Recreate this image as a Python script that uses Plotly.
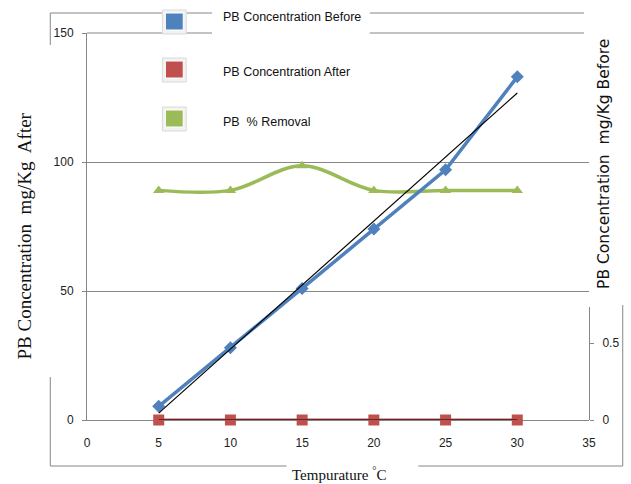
import numpy as np
import plotly.graph_objects as go

# ---- data ----
temperature = [5, 10, 15, 20, 25, 30]
pb_before = [5.3, 28, 51, 74, 97, 133]
pb_after = [0, 0, 0, 0, 0, 0]
pb_removal = [89, 89, 98.5, 89, 89, 89]
series_names = ["PB Concentration Before", "PB Concentration After", "PB  % Removal"]
x_ticks = [0, 5, 10, 15, 20, 25, 30, 35]
y_ticks = [0, 50, 100, 150]
y2_ticks = [0, 0.5]

BLUE = "#4F81BD"
RED = "#C0504D"
GREEN = "#9BBB59"
GREY = "#868686"
TICKFONT = dict(family="Liberation Sans, Arial", size=12, color="#222")

W, H = 631, 484
L, R, T, B = 87, 593, 33, 420

def px(x):
    return (x - L) / (R - L)

def py(y):
    return (B - y) / (B - T)

# linear trendlines
c1 = np.polyfit(temperature, pb_before, 1)
c2 = np.polyfit(temperature, pb_after, 1)
tx = [temperature[0], temperature[-1]]

fig = go.Figure()

fig.add_trace(go.Scatter(x=temperature, y=pb_after, name=series_names[1], yaxis="y2",
                         mode="lines+markers", line=dict(color=RED, width=3),
                         marker=dict(symbol="square", size=11, color=RED),
                         cliponaxis=False, showlegend=False))
fig.add_trace(go.Scatter(x=tx, y=np.polyval(c2, tx), yaxis="y2", mode="lines",
                         line=dict(color="black", width=1.2), showlegend=False, cliponaxis=False))
fig.add_trace(go.Scatter(x=temperature, y=pb_removal, name=series_names[2],
                         mode="lines+markers", line=dict(color=GREEN, width=3.5, shape="spline", smoothing=1),
                         marker=dict(symbol="triangle-up", size=10, color=GREEN),
                         cliponaxis=False, showlegend=False))
fig.add_trace(go.Scatter(x=temperature, y=pb_before, name=series_names[0],
                         mode="lines+markers", line=dict(color=BLUE, width=3.5),
                         marker=dict(symbol="diamond", size=10, color=BLUE),
                         cliponaxis=False, showlegend=False))
fig.add_trace(go.Scatter(x=tx, y=np.polyval(c1, tx), mode="lines",
                         line=dict(color="black", width=1.2), showlegend=False, cliponaxis=False))

shapes = []
def hline(y, x0, x1):
    shapes.append(dict(type="line", xref="paper", yref="paper", x0=px(x0), x1=px(x1),
                       y0=py(y), y1=py(y), line=dict(color=GREY, width=1), layer="above"))
def vline(x, y0, y1):
    shapes.append(dict(type="line", xref="paper", yref="paper", x0=px(x), x1=px(x),
                       y0=py(y0), y1=py(y1), line=dict(color=GREY, width=1), layer="above"))

# outer frame fragments
hline(13, 50, 588)
hline(33, 87, 588)
vline(50, 13, 45)
vline(50, 377, 466)
hline(466, 50, 288)
hline(466, 421, 627)
vline(627, 305, 466)

# white legend background
shapes.append(dict(type="rect", xref="paper", yref="paper", x0=px(213), x1=px(372),
                   y0=py(140), y1=py(0), fillcolor="white", line=dict(width=0), layer="above"))
# legend squares
for (yc, col) in [(21, BLUE), (69, RED), (118, GREEN)]:
    shapes.append(dict(type="rect", xref="paper", yref="paper", x0=px(163), x1=px(187),
                       y0=py(yc + 13), y1=py(yc - 11), fillcolor="#F2F2F2",
                       line=dict(color="#D9D9D9", width=1), layer="above"))
    shapes.append(dict(type="rect", xref="paper", yref="paper", x0=px(166), x1=px(184),
                       y0=py(yc + 9), y1=py(yc - 8), fillcolor=col,
                       line=dict(color="white", width=1), layer="above"))

annotations = []
LEGFONT = dict(family="Liberation Sans, Arial", size=12.5, color="#111")
for name, yc in zip(series_names, [17, 72, 122]):
    annotations.append(dict(text=name, xref="paper", yref="paper", x=px(222), y=py(yc),
                            xanchor="left", yanchor="middle", showarrow=False, font=LEGFONT))
annotations.append(dict(text="PB Concentration  mg/Kg  After", xref="paper", yref="paper",
                        x=px(23), y=py(236), textangle=-90, showarrow=False,
                        xanchor="center", yanchor="middle",
                        font=dict(family="Liberation Serif, Times New Roman", size=19, color="#111")))
annotations.append(dict(text="PB Concentration  mg/Kg Before", xref="paper", yref="paper",
                        x=px(608), y=py(164), textangle=-90, showarrow=False,
                        xanchor="center", yanchor="middle",
                        font=dict(family="DejaVu Sans, Verdana", size=15.5, color="#111")))
annotations.append(dict(text="Tempurature <sup>°</sup>C", xref="paper", yref="paper",
                        x=px(341), y=py(474), showarrow=False,
                        xanchor="center", yanchor="middle",
                        font=dict(family="Liberation Serif, Times New Roman", size=15, color="#111")))

fig.update_layout(
    width=W, height=H, autosize=False,
    margin=dict(l=L, r=W - R, t=T, b=H - B, pad=0),
    paper_bgcolor="white", plot_bgcolor="rgba(0,0,0,0)",
    xaxis=dict(range=[0, 35], tickvals=x_ticks, showgrid=False, zeroline=False,
               showline=True, linecolor=GREY, linewidth=1, ticks="outside", ticklen=0,
               ticklabelstandoff=12, tickfont=TICKFONT),
    yaxis=dict(range=[0, 150], tickvals=y_ticks, showgrid=True, gridcolor=GREY, gridwidth=1,
               zeroline=False, showline=True, linecolor=GREY, linewidth=1,
               ticks="outside", ticklen=4, tickcolor=GREY, ticklabelstandoff=6, tickfont=TICKFONT),
    yaxis2=dict(domain=[0, py(307)], range=[0, 0.734], tickvals=y2_ticks, anchor="x", side="right",
                showgrid=False, zeroline=False, showline=True, linecolor=GREY, linewidth=1,
                ticks="outside", ticklen=4, tickcolor=GREY, ticklabelstandoff=6, tickfont=TICKFONT),
    shapes=shapes,
    annotations=annotations,
    showlegend=False,
)

fig.write_html("out.html", config={"displayModeBar": False},
               post_script="document.body.style.margin='0px';document.body.style.overflow='hidden';")
